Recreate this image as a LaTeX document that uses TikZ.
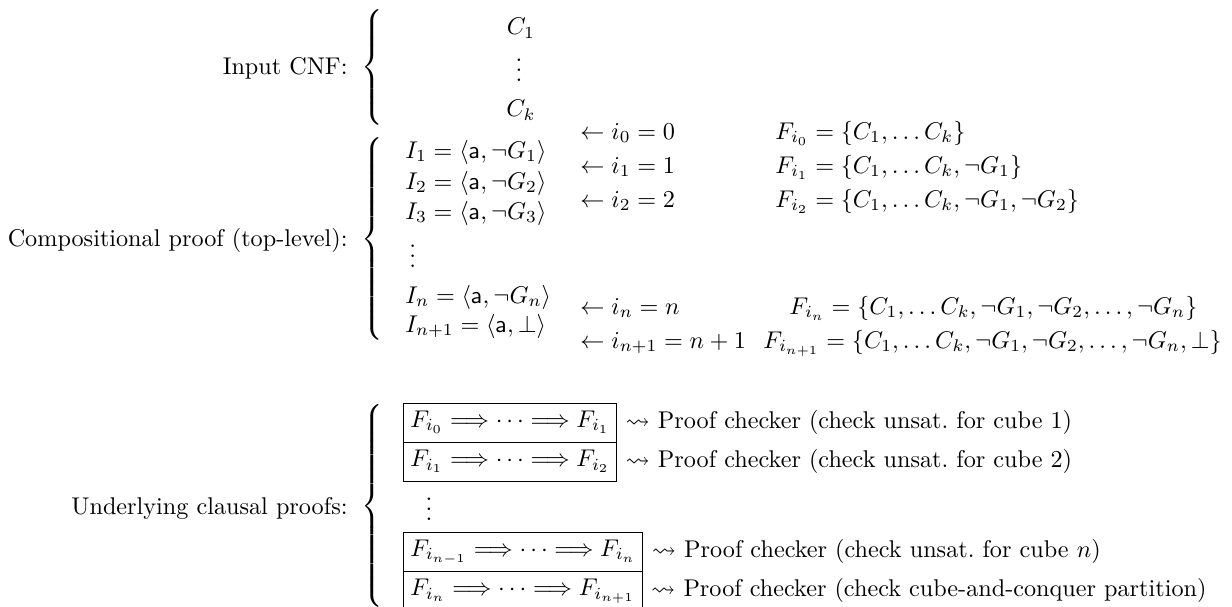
\documentclass[tikz,border=0pt]{standalone}
\usepackage{amsmath,amssymb}
\usepackage{tikz}
\usetikzlibrary{positioning}
% tall brace of a given height
\newcommand{\llavealta}[1]{$\delimiterfactor=1000\delimitershortfall=0pt\left\{\vcenter{\hrule height #1 width 0pt}\right.$}
\tikzset{
  lbl/.style={anchor=east, inner sep=0pt},
  llave/.style={inner sep=0pt},
  fila/.style={anchor=west, inner sep=0pt, text height=7.5pt, text depth=2.5pt},
  caja/.style={draw, line width=0.4pt, inner xsep=3pt, inner ysep=3pt,
    text height=7pt, text depth=3.2pt, outer sep=0pt, anchor=north west},
  chk/.style={anchor=west, inner sep=0pt},
}

\begin{document}
\begin{tikzpicture}[x=0.4132pt, y=-0.4132pt]
  \useasboundingbox (0,0) rectangle (1232,606);
  % input CNF
  \node[lbl] (lin) at (348,68) {Input CNF:};
  \node[llave] (bin) at (374,67.5) {\llavealta{45pt}};
  \node (c1) at (521,28) {$C_1$};
  \node (cd) at (519,63) {$\vdots$};
  \node (ck) at (521,110) {$C_k$};
  % compositional proof
  \node[lbl] (lcp) at (348,240) {Compositional proof (top-level):};
  \node[llave] (bcp) at (374,239) {\llavealta{84pt}};
  \node[fila] (i1) at (405,152) {$I_1 = \langle \mathsf{a}, \neg G_1 \rangle$};
  \node[fila] (i2) at (405,183) {$I_2 = \langle \mathsf{a}, \neg G_2 \rangle$};
  \node[fila] (i3) at (405,213) {$I_3 = \langle \mathsf{a}, \neg G_3 \rangle$};
  \node[fila] (id) at (409,261) {$\vdots$};
  \node[fila] (in) at (405,297) {$I_n = \langle \mathsf{a}, \neg G_n \rangle$};
  \node[fila] (in1) at (405,326) {$I_{n+1} = \langle \mathsf{a}, \bot \rangle$};
  \node[fila] (a0) at (580,133) {$\leftarrow i_0 = 0$};
  \node[fila] (a1) at (580,167) {$\leftarrow i_1 = 1$};
  \node[fila] (a2) at (580,201) {$\leftarrow i_2 = 2$};
  \node[fila] (an) at (580,308) {$\leftarrow i_n = n$};
  \node[fila] (an1) at (580,342) {$\leftarrow i_{n+1} = n+1$};
  \node[fila] (f0) at (775,133) {$F_{i_0} = \{C_1, \ldots C_k\}$};
  \node[fila] (f1) at (775,167) {$F_{i_1} = \{C_1, \ldots C_k, \neg G_1\}$};
  \node[fila] (f2) at (775,201) {$F_{i_2} = \{C_1, \ldots C_k, \neg G_1, \neg G_2\}$};
  \node[fila] (fn) at (789,308) {$F_{i_n} = \{C_1, \ldots C_k, \neg G_1, \neg G_2, \ldots, \neg G_n\}$};
  \node[fila] (fn1) at (763,342) {$F_{i_{n+1}} = \{C_1, \ldots C_k, \neg G_1, \neg G_2, \ldots, \neg G_n, \bot\}$};
  % underlying clausal proofs
  \node[lbl] (lup) at (348,508) {Underlying clausal proofs:};
  \node[llave] (bup) at (374,506) {\llavealta{84pt}};
  \node[caja] (p1) at (403,403) {$F_{i_0} \Longrightarrow \cdots \Longrightarrow F_{i_1}$};
  \node[caja, below=0pt of p1.south west, anchor=north west] (p2) {$F_{i_1} \Longrightarrow \cdots \Longrightarrow F_{i_2}$};
  \node (pd) at (429,502) {$\vdots$};
  \node[caja] (p3) at (403,532) {$F_{i_{n-1}} \Longrightarrow \cdots \Longrightarrow F_{i_n}$};
  \node[caja, below=0pt of p3.south west, anchor=north west] (p4) {$F_{i_n} \Longrightarrow \cdots \Longrightarrow F_{i_{n+1}}$};
  \node[chk, right=3.5pt of p1] (k1) {$\rightsquigarrow$ Proof checker (check unsat.\ for cube 1)};
  \node[chk, right=3.5pt of p2] (k2) {$\rightsquigarrow$ Proof checker (check unsat.\ for cube 2)};
  \node[chk, right=3.5pt of p3] (k3) {$\rightsquigarrow$ Proof checker (check unsat.\ for cube $n$)};
  \node[chk, right=3.5pt of p4] (k4) {$\rightsquigarrow$ Proof checker (check cube-and-conquer partition)};
\end{tikzpicture}
\end{document}
